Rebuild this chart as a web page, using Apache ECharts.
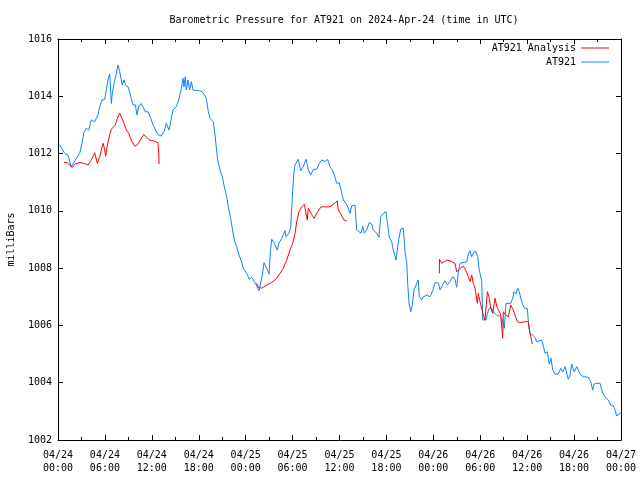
<!DOCTYPE html>
<html>
<head>
<meta charset="utf-8">
<script src="https://cdn.jsdelivr.net/npm/echarts@6/dist/echarts.min.js"></script>
<style>html,body{margin:0;padding:0;background:#fff}#c{width:640px;height:480px}</style>
</head>
<body>
<div id="c"></div>
<script>
// Hours since 2024-04-24 00:00 UTC
var xTickLabels = ['04/24\n00:00','04/24\n06:00','04/24\n12:00','04/24\n18:00','04/25\n00:00','04/25\n06:00','04/25\n12:00','04/25\n18:00','04/26\n00:00','04/26\n06:00','04/26\n12:00','04/26\n18:00','04/27\n00:00'];

var blueHours = [0.22,0.86,1.28,1.70,2.34,2.78,3.07,3.33,3.62,3.93,4.26,4.69,5.12,5.33,5.63,5.97,6.18,6.39,6.61,6.74,6.82,6.94,7.16,7.46,7.67,7.89,8.10,8.22,8.44,8.66,8.95,9.17,9.37,9.59,9.89,10.10,10.32,10.65,10.87,11.17,11.51,11.86,12.15,12.57,12.88,13.21,13.56,13.85,14.20,14.49,14.71,15.13,15.44,15.77,15.99,16.11,16.28,16.41,16.63,16.84,17.05,17.27,17.48,18.12,18.42,18.76,18.97,19.09,19.22,19.44,19.86,20.08,20.21,20.42,20.72,21.01,21.27,21.58,21.78,22.04,22.29,22.55,22.85,23.15,23.49,23.70,24.13,24.47,24.77,25.11,25.41,25.71,25.96,26.13,26.35,26.69,26.99,27.20,27.33,27.66,28.05,28.26,28.61,28.90,29.03,29.16,29.54,29.76,29.97,30.14,30.31,30.53,30.73,31.04,31.37,31.72,32.01,32.32,32.65,33.09,33.38,33.73,34.15,34.49,34.79,35.08,35.34,35.64,35.98,36.28,36.49,36.83,37.13,37.34,37.56,37.98,38.20,38.41,38.75,38.97,39.17,39.48,39.81,40.12,40.32,40.76,41.05,41.27,41.60,41.95,42.11,42.37,42.68,42.88,43.23,43.52,43.83,44.16,44.38,44.60,44.72,44.89,45.11,45.31,45.53,45.79,46.08,46.21,46.51,46.72,46.94,47.23,47.58,47.92,48.22,48.64,48.86,49.28,49.49,49.79,50.13,50.48,50.77,50.99,51.20,51.41,51.63,52.27,52.47,52.69,52.91,53.20,53.46,53.68,53.84,53.97,54.19,54.32,54.48,54.74,54.91,55.16,55.47,55.67,55.89,56.11,56.44,56.75,56.95,57.08,57.30,57.90,58.15,58.32,58.57,58.79,59.00,59.18,59.38,59.64,60.02,60.20,60.37,60.71,61.01,61.22,61.43,61.86,62.07,62.28,62.58,62.83,63.05,63.27,63.56,63.98,64.29,64.55,64.84,65.06,65.26,65.48,65.70,65.99,66.34,66.54,66.85,67.18,67.82,68.13,68.38,68.55,68.90,69.10,69.32,69.54,69.74,69.96,70.17,70.38,70.69,71.02,71.24,71.45,71.66,71.97];
var bluePressure = [1012.30,1012.01,1011.95,1011.54,1011.83,1012.01,1012.36,1012.76,1012.88,1012.82,1013.17,1013.11,1013.35,1013.64,1013.87,1013.89,1014.22,1014.57,1014.78,1014.80,1013.75,1014.10,1014.45,1014.80,1015.09,1014.86,1014.80,1014.39,1014.57,1014.39,1014.33,1014.16,1013.93,1013.70,1013.70,1013.35,1013.64,1013.75,1013.70,1013.46,1013.46,1013.23,1013.00,1012.76,1012.65,1012.61,1012.76,1013.06,1012.82,1013.23,1013.52,1013.64,1013.87,1014.28,1014.63,1014.33,1014.68,1014.22,1014.57,1014.22,1014.51,1014.22,1014.19,1014.19,1014.16,1014.04,1013.93,1013.70,1013.46,1013.23,1013.11,1012.65,1012.30,1011.78,1011.43,1011.19,1010.84,1010.49,1010.14,1009.80,1009.39,1008.98,1008.75,1008.46,1008.22,1007.99,1007.82,1007.61,1007.68,1007.53,1007.38,1007.21,1007.21,1007.76,1008.19,1007.99,1007.79,1008.69,1009.01,1008.87,1008.63,1008.87,1009.04,1009.22,1009.31,1009.10,1009.22,1009.45,1010.49,1011.25,1011.60,1011.64,1011.80,1011.40,1011.54,1011.80,1011.43,1011.25,1011.45,1011.45,1011.64,1011.78,1011.72,1011.80,1011.54,1011.43,1011.25,1010.96,1010.98,1010.61,1010.38,1010.26,1010.09,1009.91,1010.17,1010.20,1009.33,1009.27,1009.22,1009.47,1009.22,1009.33,1009.59,1009.54,1009.33,1009.22,1009.08,1009.80,1009.91,1009.97,1009.62,1009.08,1008.92,1008.63,1008.28,1008.92,1009.36,1009.39,1008.57,1008.17,1007.47,1006.77,1006.48,1006.71,1007.24,1007.41,1007.59,1007.00,1006.89,1007.00,1006.95,1007.06,1007.00,1007.21,1007.49,1007.49,1007.24,1007.47,1007.56,1007.41,1007.53,1007.70,1007.61,1007.33,1007.87,1008.17,1008.22,1008.22,1008.49,1008.61,1008.40,1008.57,1008.57,1008.40,1007.99,1007.99,1007.53,1006.19,1006.25,1006.19,1006.42,1006.60,1006.60,1006.48,1006.54,1006.36,1006.33,1006.25,1006.07,1005.90,1006.77,1006.77,1006.95,1007.18,1007.10,1007.30,1007.18,1006.95,1006.77,1006.60,1006.60,1005.95,1005.72,1005.66,1005.58,1005.43,1005.49,1005.49,1005.28,1005.03,1005.08,1004.65,1004.85,1004.44,1004.30,1004.30,1004.50,1004.38,1004.56,1004.56,1004.12,1004.27,1004.65,1004.38,1004.56,1004.44,1004.27,1004.21,1004.19,1004.03,1003.74,1003.95,1003.98,1003.92,1003.98,1003.74,1003.60,1003.51,1003.57,1003.40,1003.22,1003.19,1003.05,1002.84,1002.81,1002.95];

// Analysis: three runs, separated by null gaps
var redHours = [0.77,1.19,1.79,2.21,2.78,3.33,3.84,4.26,4.69,5.03,5.33,5.54,5.76,5.88,6.10,6.31,6.61,6.82,7.03,7.33,7.58,7.89,8.19,8.44,8.74,9.04,9.37,9.81,10.14,10.58,10.96,11.29,11.73,12.28,12.79,12.88,12.92,
  19.0,
  25.41,25.62,26.05,26.69,27.33,27.97,28.39,28.81,29.25,29.67,30.02,30.31,30.53,30.82,31.17,31.50,31.72,31.88,32.01,32.36,32.74,33.21,33.64,34.79,35.34,35.72,35.85,36.16,36.58,36.92,
  43.0,
  48.77,48.79,49.07,49.28,49.71,50.22,50.77,50.99,51.41,51.84,52.14,52.47,52.69,52.91,53.11,53.33,53.63,53.75,53.97,54.19,54.39,54.61,54.91,55.16,55.34,55.60,55.89,56.18,56.44,56.62,56.87,56.95,57.30,57.59,57.90,58.23,58.45,58.74,59.09,59.73,59.94,60.15,60.37,60.58,60.66];
var redPressure = [1011.69,1011.68,1011.52,1011.63,1011.69,1011.66,1011.60,1011.78,1012.03,1011.66,1011.89,1012.12,1012.36,1012.24,1011.91,1012.30,1012.65,1012.85,1012.82,1013.00,1013.23,1013.41,1013.23,1013.06,1012.82,1012.71,1012.47,1012.26,1012.30,1012.50,1012.67,1012.57,1012.47,1012.44,1012.38,1012.01,1011.63,
  null,
  1007.47,1007.33,1007.30,1007.41,1007.50,1007.64,1007.82,1007.99,1008.28,1008.63,1008.87,1009.22,1009.62,1009.97,1010.14,1010.23,1010.28,1009.68,1010.09,1009.91,1009.74,1009.97,1010.14,1010.14,1010.26,1010.35,1010.03,1009.89,1009.68,1009.65,
  null,
  1007.82,1008.31,1008.17,1008.22,1008.28,1008.25,1008.17,1007.87,1007.99,1008.07,1007.93,1007.70,1007.53,1007.76,1007.47,1007.30,1006.77,1007.12,1006.83,1006.60,1006.36,1006.19,1007.18,1006.95,1006.60,1006.42,1006.95,1006.60,1006.48,1006.36,1005.55,1006.48,1006.36,1006.30,1006.71,1006.54,1006.36,1006.13,1006.09,1006.13,1006.19,1006.13,1005.72,1005.66,1005.35];

var FONT = 'DejaVu Sans Mono';
var blueData = blueHours.map(function (h, i) { return [h, bluePressure[i]]; });
var redData = redHours.map(function (h, i) { return [h, redPressure[i] === null ? '-' : redPressure[i]]; });

var chart = echarts.init(document.getElementById('c'), null, {renderer: 'canvas'});

function xAxisCfg(pos, showLabel) {
  return {
    type: 'value', position: pos, min: 0, max: 72, interval: 6,
    axisLine: {show: true, onZero: false, lineStyle: {color: '#000', width: 1}},
    axisTick: {show: true, inside: true, length: 5, lineStyle: {color: '#000'}},
    minorTick: {show: true, splitNumber: 2, length: 3, lineStyle: {color: '#000'}},
    splitLine: {show: false},
    axisLabel: {
      show: showLabel, color: '#000', fontFamily: FONT, fontSize: 10, lineHeight: 13, margin: 9,
      formatter: function (v) { return xTickLabels[Math.round(v / 6)]; }
    }
  };
}
function yAxisCfg(pos, showLabel) {
  var cfg = {
    type: 'value', position: pos, min: 1002, max: 1016, interval: 2,
    axisLine: {show: true, onZero: false, lineStyle: {color: '#000', width: 1}},
    axisTick: {show: true, inside: true, length: 5, lineStyle: {color: '#000'}},
    splitLine: {show: false},
    axisLabel: {show: showLabel, color: '#000', fontFamily: FONT, fontSize: 10, margin: 6,
      formatter: function (v) { return String(v); }}
  };
  if (showLabel) {
    cfg.name = 'milliBars';
    cfg.nameLocation = 'middle';
    cfg.nameRotate = 90;
    cfg.nameGap = 42;
    cfg.nameTextStyle = {color: '#000', fontFamily: FONT, fontSize: 10};
  }
  return cfg;
}

chart.setOption({
  animation: false,
  backgroundColor: '#fff',
  title: {
    text: 'Barometric Pressure for AT921 on 2024-Apr-24 (time in UTC)',
    left: 339, top: 10, textAlign: 'center',
    textStyle: {color: '#000', fontFamily: FONT, fontSize: 10, fontWeight: 'normal'}
  },
  legend: {
    orient: 'vertical', right: 31, top: 42, align: 'right',
    icon: 'rect', itemWidth: 28, itemHeight: 1, itemGap: 2, padding: 0,
    textStyle: {color: '#000', fontFamily: FONT, fontSize: 10, lineHeight: 12},
    data: ['AT921 Analysis', 'AT921']
  },
  grid: {left: 58, right: 19, top: 39, bottom: 40, containLabel: false, outerBoundsMode: 'none'},
  xAxis: [xAxisCfg('bottom', true), xAxisCfg('top', false)],
  yAxis: [yAxisCfg('left', true), yAxisCfg('right', false)],
  series: [
    {name: 'AT921 Analysis', type: 'line', data: redData, showSymbol: false, symbol: 'none',
     connectNulls: false, lineStyle: {color: '#ff0000', width: 1}, itemStyle: {color: '#ff0000'}, z: 3},
    {name: 'AT921', type: 'line', data: blueData, showSymbol: false, symbol: 'none',
     lineStyle: {color: '#0a84ff', width: 1}, itemStyle: {color: '#0a84ff'}, z: 2}
  ]
});
</script>
</body>
</html>
